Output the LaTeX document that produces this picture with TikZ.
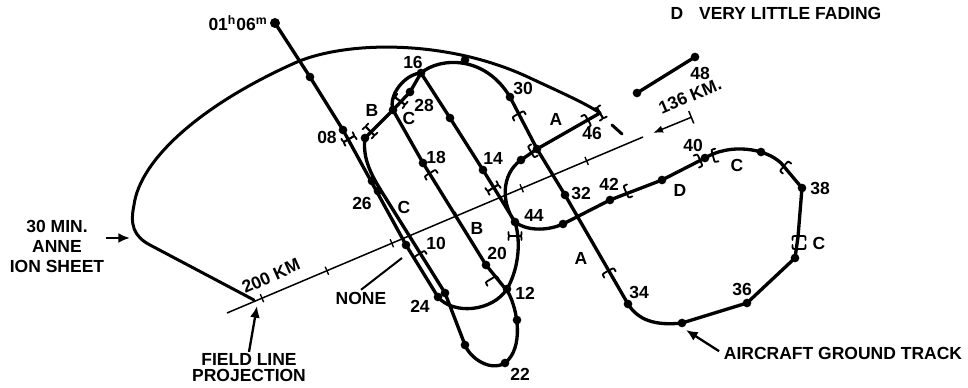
\documentclass[tikz,border=0pt]{standalone}
\usepackage{fontspec}
\setmainfont{Liberation Sans}
\usetikzlibrary{arrows.meta,decorations.markings}

\tikzset{
  lbl/.style={font=\fontsize{10.5}{12}\selectfont\bfseries, inner sep=1pt, align=center},
  track/.style={line width=2pt, line join=round, line cap=round},
  sheet/.style={line width=1.8pt, line cap=round},
  field/.style={line width=0.9pt},
  fticks/.style={postaction={decorate}, decoration={markings,
    mark=between positions 22.8pt and 240pt step 42.3pt with {\draw[line width=0.8pt] (0,-2.6pt) -- (0,2.6pt);}}},
  pointer/.style={line width=1.4pt, -{Latex[length=7pt,width=6pt]}},
  brk/.pic={\draw[line width=1.1pt, line cap=round] (4,-6.5) .. controls (0,-6.5) .. (0,-3) -- (0,3) .. controls (0,6.5) .. (4,6.5);},
  brkx/.pic={\draw[line width=1.1pt, line cap=round] (4,-6.5) .. controls (0,-6.5) .. (0,-3) -- (0,3) .. controls (0,6.5) .. (4,6.5);
    \draw[line width=1.1pt, line cap=round] (-4,-6.5) .. controls (0,-6.5) .. (0,-3) -- (0,3) .. controls (0,6.5) .. (-4,6.5);}
}

\begin{document}
\begin{tikzpicture}[x=0.6pt, y=-0.6pt, every node/.style={lbl}]
\useasboundingbox (0,0) rectangle (968,388);

\coordinate (t06) at (275,23);
\coordinate (t07) at (310,77);
\coordinate (t08) at (343,130);
\coordinate (t10) at (406,245);
\coordinate (t11) at (438,297);
\coordinate (t12) at (507,289);
\coordinate (t44) at (515,222);
\coordinate (t14) at (483,170);
\coordinate (t15) at (450,118);
\coordinate (t16) at (421,73);
\coordinate (t17) at (393,110);
\coordinate (t18) at (423,163);
\coordinate (t20) at (486,265);
\coordinate (t12b) at (508,292);
\coordinate (t21) at (517,320);
\coordinate (t22) at (505,363);
\coordinate (t23) at (465,345);
\coordinate (t24) at (445,293);
\coordinate (t25) at (385,197);
\coordinate (t26) at (372,181);
\coordinate (t26b) at (378,191);
\coordinate (t27) at (365,138);
\coordinate (t28) at (410,92);
\coordinate (t29) at (465,60);
\coordinate (t30) at (510,97);
\coordinate (t31) at (537,149);
\coordinate (t32) at (565,195);
\coordinate (t34) at (628,304);
\coordinate (t35) at (682,323);
\coordinate (t36) at (747,303);
\coordinate (t37) at (795,258);
\coordinate (t37b) at (798,237);
\coordinate (t38) at (802,188);
\coordinate (t39b) at (781,163);
\coordinate (t39) at (761,152);
\coordinate (t40) at (705,158);
\coordinate (t41) at (662,180);
\coordinate (t42) at (610,200);
\coordinate (t43) at (563,224);
\coordinate (t45) at (521,160);
\coordinate (t46) at (600,113);
\coordinate (t47) at (637,93);
\coordinate (t48) at (695,57);

\coordinate (f0) at (227,313);
\coordinate (f1) at (643,137);
\coordinate (d0) at (653,133);
\coordinate (d1) at (692,117);

\draw[sheet] (254,300) -- (150,245) .. controls (133,236) and (130,224) .. (134,205)
  .. controls (140,160) and (200,105) .. (297,62) .. controls (350,40) and (450,40) .. (530,78)
  .. controls (560,92) and (585,103) .. (t46);
\draw[sheet] (612,125) -- (622,134);

\draw[field, fticks] (f0) -- (f1);
\draw[field, {Latex[length=6pt,width=4.5pt]}-{Bar[width=8pt]}] (d0) -- (d1);

\draw[track] (t06) -- (t07) -- (t08) -- (t10) -- (t11)
  .. controls (453,315) and (492,312) .. (t12) .. controls (517,272) and (522,245) .. (t44)
  -- (t14) -- (t15) -- (t16) .. controls (405,74) and (388,95) .. (t17)
  -- (t18) -- (t20) -- (t12b) .. controls (518,310) and (524,348) .. (t22)
  .. controls (490,372) and (470,358) .. (t23) -- (t24) -- (t25)
  .. controls (373,178) and (362,160) .. (t27) -- (t17) -- (t28) -- (t16)
  .. controls (440,57) and (485,55) .. (t30) -- (t31) -- (t32) -- (t34)
  .. controls (638,320) and (655,326) .. (t35) -- (t36) -- (t37) -- (t37b) -- (t38) -- (t39b)
  .. controls (765,148) and (730,143) .. (t40) -- (t41) -- (t42) -- (t43)
  .. controls (545,232) and (525,230) .. (t44) .. controls (502,205) and (500,175) .. (t45) -- (t31) -- (t46);
\draw[track] (t47) -- (t48);

\fill (t06) circle (3pt);
\foreach \p in {t07,t08,t10,t11,t12,t44,t14,t15,t16,t17,t18,t20,t21,t22,t23,t24,t26,t26b,t27,t28,t29,t30,t31,t45,t32,t43,t42,t41,t40,t39,t38,t37,t36,t35,t34,t47,t48}
  \fill (\p) circle (2.6pt);

\pic[rotate=-60] at (349,139) {brkx};
\pic[rotate=45] at (370,131) {brkx};
\pic[rotate=53] at (400,101) {brkx};
\pic[rotate=-58] at (430,173) {brk};
\pic[rotate=-58] at (493,188) {brkx};
\pic[rotate=-61] at (518,114) {brk};
\pic[rotate=30] at (531,152) {brk};
\pic[rotate=210] at (588,120) {brk};
\pic[rotate=30] at (600,113) {brkx};
\pic[rotate=-58] at (419,254) {brk};
\pic[rotate=90] at (515,236) {brkx};
\pic[rotate=-59] at (491,279) {brk};
\pic[rotate=-61] at (608,271) {brk};
\pic[rotate=24] at (626,192) {brk};
\pic[rotate=204] at (700,160) {brk};
\pic[rotate=15] at (713,156) {brk};
\pic[rotate=-40] at (784,166) {brk};
\pic[rotate=-90] at (799,236) {brk};
\pic[rotate=90] at (799,249) {brk};

\node (l06) at (238,23) {01\textsuperscript{h}06\textsuperscript{m}};
\node (l08) at (327,137) {08};
\node (l10) at (436,243) {10};
\node (l12) at (525,293) {12};
\node (l14) at (493,158) {14};
\node (l16) at (413,62) {16};
\node (l18) at (436,157) {18};
\node (l20) at (497,253) {20};
\node (l22) at (520,374) {22};
\node (l24) at (420,306) {24};
\node (l26) at (362,203) {26};
\node (l28) at (424,105) {28};
\node (l30) at (523,88) {30};
\node (l32) at (581,193) {32};
\node (l34) at (639,292) {34};
\node (l36) at (742,289) {36};
\node (l38) at (820,188) {38};
\node (l40) at (693,145) {40};
\node (l42) at (609,184) {42};
\node (l44) at (534,215) {44};
\node (l46) at (592,133) {46};
\node (l48) at (700,73) {48};

\node (sB1) at (372,110) {B};
\node (sC1) at (409,118) {C};
\node (sC2) at (404,207) {C};
\node (sB2) at (477,228) {B};
\node (sA1) at (556,119) {A};
\node (sA2) at (581,258) {A};
\node (sD) at (680,190) {D};
\node (sC3) at (737,165) {C};
\node (sC4) at (819,243) {C};

\node (legD) at (776,13) {D\hspace{0.9em}VERY LITTLE FADING};
\node[rotate=24] (km200) at (271,276) {200 KM};
\node[rotate=23] (km136) at (690,96) {136 KM.};

\node (ion) at (57,246) {30 MIN.\\ANNE\\ION SHEET};
\coordinate (ionpt) at (130,238);
\draw[pointer] (ion.east |- ionpt) -- (ionpt);

\node[font=\fontsize{10.5}{9.6}\selectfont\bfseries] (fld) at (249,368) {FIELD LINE\\PROJECTION};
\coordinate (fldpt) at (257,306);
\draw[pointer] (fld.north) -- (fldpt);

\node (none) at (361,298) {NONE};
\coordinate (nonept) at (402,258);
\draw[line width=1.2pt] (none.north) -- (nonept);

\node (acft) at (843,353) {AIRCRAFT GROUND TRACK};
\coordinate (acpt) at (686,330);
\draw[pointer, shorten <=2pt] (acft.west) -- (acpt);
\end{tikzpicture}
\end{document}
